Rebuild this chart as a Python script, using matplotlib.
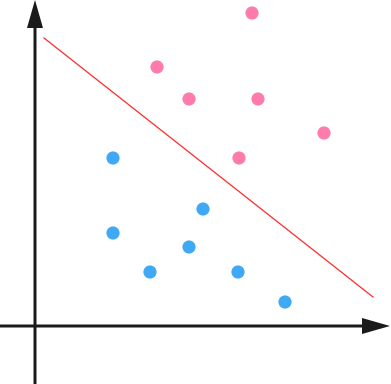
import numpy as np
from matplotlib import pyplot as plt

# point coordinates (origin at the axes crossing)
pink_x = [217, 122, 154, 223, 289, 204]
pink_y = [313, 259, 227, 227, 193, 168]
blue_x = [78, 168, 78, 154, 115, 203, 250]
blue_y = [168, 117, 93, 79, 54, 54, 24]
line_x = [9, 338]
line_y = [288, 29]

fig = plt.figure(figsize=(3.91, 3.84), dpi=100)
ax = fig.add_axes([0, 0, 1, 1])
ax.set_xlim(-35, 356)
ax.set_ylim(-58, 326)
ax.axis("off")

# axes with arrowheads
ax.arrow(-35, 0, 362, 0, width=3, head_width=16, head_length=28,
         length_includes_head=False, color="#1a1a1a", lw=0)
ax.arrow(0, -58, 0, 356, width=3, head_width=16, head_length=28,
         length_includes_head=False, color="#1a1a1a", lw=0)

ax.plot(line_x, line_y, color="#ff2a2a", lw=0.9)

ax.scatter(pink_x, pink_y, s=90, color="#ff7bac", edgecolors="none", zorder=3)
ax.scatter(blue_x, blue_y, s=90, color="#3fa9f5", edgecolors="none", zorder=3)

fig.savefig("out.png", dpi=100)
